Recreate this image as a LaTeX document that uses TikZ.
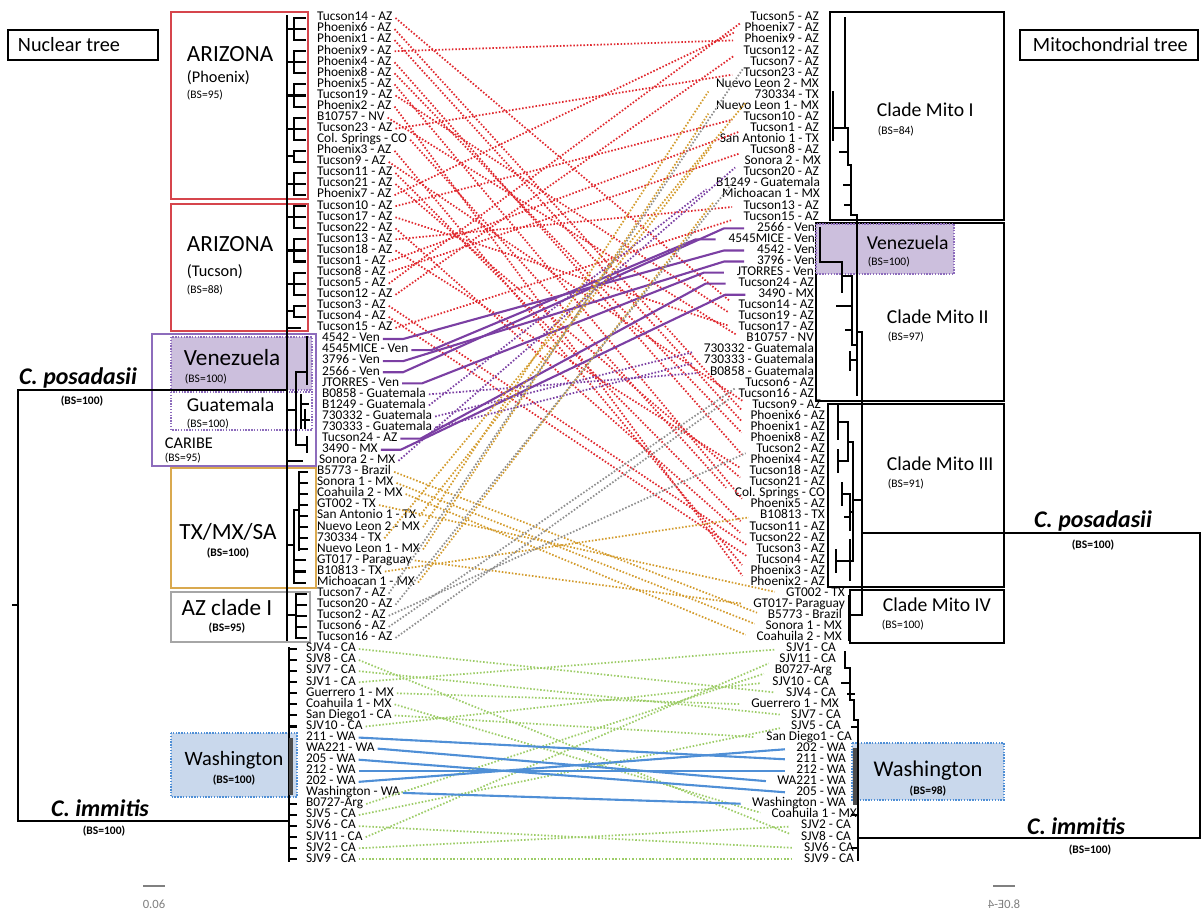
\documentclass[tikz,border=0pt]{standalone}
\usepackage{fontspec}
\setmainfont{Carlito}
\usetikzlibrary{calc}

\definecolor{azred}{HTML}{E0282E}
\definecolor{venpurple}{HTML}{7B3FA3}
\definecolor{mexorange}{HTML}{D39B2C}
\definecolor{azgray}{HTML}{8E8E8E}
\definecolor{sjvgreen}{HTML}{9DCC68}
\definecolor{wablue}{HTML}{4F8FD6}
\definecolor{venfill}{HTML}{CCBFDD}
\definecolor{wafill}{HTML}{C9D8EC}
\definecolor{boxred}{HTML}{D6454C}
\definecolor{boxorange}{HTML}{D9A94F}
\definecolor{boxpurple}{HTML}{8D6CBC}

% row height of the taxon lists
\newcommand{\rowy}[1]{18+(#1-1)*11.07}

\begin{document}
\begin{tikzpicture}[x=0.025cm,y=-0.025cm,
    lab/.style={font=\fontsize{9.5}{9.5}\selectfont,inner ysep=0pt,inner xsep=2pt,
      text height=5.6pt,text depth=1.6pt},
    head/.style={font=\fontsize{14.4}{14.4}\selectfont},
    big/.style={font=\fontsize{16.5}{16.5}\selectfont},
    mid/.style={font=\fontsize{14}{14}\selectfont},
    small/.style={font=\fontsize{11.6}{11.6}\selectfont},
    bs/.style={font=\fontsize{8.2}{8.2}\selectfont},
    bsb/.style={font=\fontsize{8.2}{8.2}\selectfont\bfseries},
    species/.style={font=\fontsize{17}{17}\selectfont\bfseries\itshape},
    tree/.style={line width=1.5pt,line cap=rect},
    clade/.style={draw,line width=0.8pt},
    dotbox/.style={draw,line width=0.9pt,dash pattern=on 1pt off 1pt},
    dots/.style={line width=1.25pt,dash pattern=on 1.1pt off 1.3pt,shorten >=6pt},
    az/.style={dots,azred},
    gua/.style={dots,venpurple},
    mex/.style={dots,mexorange},
    azone/.style={dots,azgray},
    sjv/.style={dots,sjvgreen},
    ven/.style={line width=1.5pt,venpurple},
    wash/.style={line width=1.5pt,wablue,shorten >=6pt}]
\useasboundingbox (0,0) rectangle (1204,910);

% ---- clade boxes, nuclear side
\draw[line width=0.8pt] (8,30) rectangle (158,60);
\node[head,anchor=west] (nuclear) at (13,45) {Nuclear tree};
\draw[clade,boxred] (171,12) rectangle (308,199);
\draw[clade,boxred] (171,204) rectangle (308,331);
\draw[clade,boxpurple] (152,334) rectangle (316,466);
\draw[dotbox,boxpurple,fill=venfill] (171,337) rectangle (312,390);
\draw[dotbox,boxpurple] (171,392) rectangle (312,430);
\draw[clade,boxorange] (171,468) rectangle (316,588);
\draw[clade,gray!70] (171,592) rectangle (310,642);
\draw[dotbox,wablue,fill=wafill] (171,733) rectangle (297,797);

\node[big,anchor=west] (azphx) at (182,54) {ARIZONA};
\node[small,anchor=west] (phx) at (182,78) {(Phoenix)};
\node[bs,anchor=west] (phxbs) at (182,95) {(BS=95)};
\node[big,anchor=west] (aztuc) at (182,244) {ARIZONA};
\node[small,anchor=west] (tuc) at (182,272) {(Tucson)};
\node[bs,anchor=west] (tucbs) at (182,290) {(BS=88)};
\node[big,anchor=west] (venl) at (179,358) {Venezuela};
\node[bs,anchor=west] (venlbs) at (180,379) {(BS=100)};
\node[mid,anchor=west] (guat) at (182,405) {Guatemala};
\node[bs,anchor=west] (guatbs) at (182,424) {(BS=100)};
\node[small,anchor=west] (caribe) at (160,443) {CARIBE};
\node[bs,anchor=west] (caribebs) at (160,458) {(BS=95)};
\node[big] (txmx) at (228,532) {TX/MX/SA};
\node[bsb] (txmxbs) at (228,553) {(BS=100)};
\node[big] (azone) at (227,608) {AZ clade I};
\node[bsb] (azonebs) at (227,628) {(BS=95)};
\node[font=\fontsize{14.5}{14.5}\selectfont] (wal) at (234,760) {Washington};
\node[bsb] (walbs) at (234,780) {(BS=100)};

% ---- clade boxes, mitochondrial side
\draw[line width=0.8pt] (1020,30) rectangle (1198,60);
\node[head,anchor=west] (mito) at (1028,45) {Mitochondrial tree};
\draw[clade] (830,12) rectangle (1004,220);
\draw[clade] (816,223) rectangle (1004,401);
\draw[dotbox,boxpurple,fill=venfill] (816,224) rectangle (954,274);
\draw[clade] (828,404) rectangle (1004,587);
\draw[clade] (850,590) rectangle (1004,643);
\draw[dotbox,wablue,fill=wafill] (852,743) rectangle (1004,800);

\node[mid,anchor=west] (mitoI) at (872,110) {Clade Mito I};
\node[bs,anchor=west] (mitoIbs) at (873,131) {(BS=84)};
\node[mid,anchor=west] (venr) at (862,243) {Venezuela};
\node[bs,anchor=west] (venrbs) at (863,262) {(BS=100)};
\node[mid,anchor=west] (mitoII) at (882,317) {Clade Mito II};
\node[bs,anchor=west] (mitoIIbs) at (883,337) {(BS=97)};
\node[mid,anchor=west] (mitoIII) at (882,464) {Clade Mito III};
\node[bs,anchor=west] (mitoIIIbs) at (883,484) {(BS=91)};
\node[mid,anchor=west] (mitoIV) at (878,605) {Clade Mito IV};
\node[bs,anchor=west] (mitoIVbs) at (877,625) {(BS=100)};
\node[font=\fontsize{16}{16}\selectfont] (war) at (928,771) {Washington};
\node[bsb] (warbs) at (928,791) {(BS=98)};

% ---- species
\node[species] (posl) at (78,378) {C. posadasii};
\node[bsb] (poslbs) at (82,401) {(BS=100)};
\node[species] (imml) at (100,808) {C. immitis};
\node[bsb] (immlbs) at (104,831) {(BS=100)};
\node[species] (posr) at (1093,521) {C. posadasii};
\node[bsb] (posrbs) at (1093,545) {(BS=100)};
\node[species] (immr) at (1076,826) {C. immitis};
\node[bsb] (immrbs) at (1090,850) {(BS=100)};

% ---- nuclear tree
\draw[tree] (287,16) -- (287,640);
\draw[tree] (18,390) -- (287,390);
\draw[tree] (18,390) -- (18,821) -- (289,821);
\draw[tree] (13,605) -- (18,605);
\draw[tree] (289,648) -- (289,861);
\foreach \a/\b in {1/3,4/6,7/9,10/12,13/14,15/17,18/20,21/23,24/26,27/28}
  \draw[tree] (294,{\rowy{\a}}) -- (294,{\rowy{\b}})
    (287,{(\rowy{\a}+\rowy{\b})/2}) -- (294,{(\rowy{\a}+\rowy{\b})/2});
\foreach \i in {1,...,28}
  \draw[tree] (294,{\rowy{\i}}) -- (305,{\rowy{\i}});
\draw[tree] (287,{\rowy{29}}) -- (300,{\rowy{29}});
\draw[tree] (307,337) -- (307,384) (296,372) -- (307,372) (296,372) -- (296,445) (287,410) -- (296,410);
\draw[tree] (301,395) -- (301,428) (301,404) -- (308,404) (305,410) -- (305,428) (301,420) -- (309,420);
\draw[tree] (296,445) -- (307,445) (307,437) -- (307,452);
\draw[tree] (287,461) -- (302,461);
\draw[tree] (299,473) -- (299,550) (294,510) -- (299,510) (294,510) -- (294,583) (287,545) -- (294,545);
\foreach \i in {42,...,49}
  \draw[tree] (299,{\rowy{\i}}) -- (307,{\rowy{\i}});
\foreach \i in {50,...,52}
  \draw[tree] (294,{\rowy{\i}}) -- (305,{\rowy{\i}});
\draw[tree] (296,594) -- (296,638) (287,615) -- (296,615);
\foreach \i in {53,...,57}
  \draw[tree] (296,{\rowy{\i}}) -- (306,{\rowy{\i}});
\foreach \i in {58,...,65,72,73,74,75,76,77}
  \draw[tree] (289,{\rowy{\i}}) -- (296,{\rowy{\i}});
\draw[line width=3pt,black!70] (291,738) -- (291,795);

% ---- mitochondrial tree
\draw[tree] (845,18) -- (845,128) -- (848,128) -- (848,165) -- (851,165) -- (851,215) -- (857,215) -- (857,395);
\draw[tree] (833,92) -- (833,140) (833,128) -- (845,128);
\draw[tree] (840,152) -- (848,152) (844,185) -- (851,185) (845,205) -- (851,205);
\draw[tree] (820,228) -- (820,262) -- (842,262) -- (842,292);
\draw[tree] (842,276) -- (852,276) -- (852,345) -- (857,345);
\draw[tree] (837,306) -- (852,306) (846,330) -- (852,330) (850,360) -- (857,360) (850,352) -- (850,370);
\draw[tree] (857,332) -- (862,332) -- (862,615);
\draw[tree] (838,406) -- (838,439) (838,422) -- (848,422);
\draw[tree] (838,450) -- (838,472) (838,461) -- (848,461);
\draw[tree] (848,422) -- (848,461) (848,442) -- (853,442);
\draw[tree] (842,483) -- (842,505) (842,494) -- (850,494) (850,494) -- (850,530) (845,517) -- (850,517);
\draw[tree] (836,550) -- (836,572) (836,561) -- (850,561) (850,540) -- (850,580);
\draw[tree] (853,442) -- (853,561) (850,561) -- (853,561) (850,512) -- (853,512) (853,500) -- (862,500);
\draw[tree] (849,596) -- (849,640) (849,615) -- (862,615);
\draw[tree] (862,533) -- (1200,533) -- (1200,838) -- (858,838);
\draw[tree] (845,652) -- (845,668) -- (850,668) -- (850,700) -- (854,700) -- (854,720) -- (858,720) -- (858,860);
\draw[tree] (842,683) -- (850,683) (848,694) -- (854,694) (852,727) -- (858,727) (852,815) -- (858,815) (852,848) -- (858,848);
\draw[line width=3pt,black!70] (855,748) -- (855,805);

% ---- taxon labels, nuclear order
\foreach \x/\t [count=\i] in {316/Tucson14 - AZ,316/Phoenix6 - AZ,316/Phoenix1 - AZ,316/Phoenix9 - AZ,
  316/Phoenix4 - AZ,316/Phoenix8 - AZ,316/Phoenix5 - AZ,316/Tucson19 - AZ,316/Phoenix2 - AZ,
  316/B10757 - NV,316/Tucson23 - AZ,316/Col. Springs - CO,316/Phoenix3 - AZ,316/Tucson9 - AZ,
  316/Tucson11 - AZ,316/Tucson21 - AZ,316/Phoenix7 - AZ,316/Tucson10 - AZ,316/Tucson17 - AZ,
  316/Tucson22 - AZ,316/Tucson13 - AZ,316/Tucson18 - AZ,316/Tucson1 - AZ,316/Tucson8 - AZ,
  316/Tucson5 - AZ,316/Tucson12 - AZ,316/Tucson3 - AZ,316/Tucson4 - AZ,316/Tucson15 - AZ,
  321/4542 - Ven,321/4545MICE - Ven,321/3796 - Ven,321/2566 - Ven,321/JTORRES - Ven,
  321/B0858 - Guatemala,321/B1249 - Guatemala,321/730332 - Guatemala,321/730333 - Guatemala,
  321/Tucson24 - AZ,321/3490 - MX,318/Sonora 2 - MX,316/B5773 - Brazil,316/Sonora 1 - MX,
  316/Coahuila 2 - MX,316/GT002 - TX,316/San Antonio 1 - TX,316/Nuevo Leon 2 - MX,316/730334 - TX,
  316/Nuevo Leon 1 - MX,316/GT017 - Paraguay,316/B10813 - TX,316/Michoacan 1 - MX,
  316/Tucson7 - AZ,316/Tucson20 - AZ,316/Tucson2 - AZ,316/Tucson6 - AZ,316/Tucson16 - AZ,
  305/SJV4 - CA,305/SJV8 - CA,305/SJV7 - CA,305/SJV1 - CA,305/Guerrero 1 - MX,305/Coahuila 1 - MX,
  305/San Diego1 - CA,305/SJV10 - CA,305/211 - WA,305/WA221 - WA,305/205 - WA,305/212 - WA,
  305/202 - WA,305/Washington - WA,305/B0727-Arg,305/SJV5 - CA,305/SJV6 - CA,305/SJV11 - CA,
  305/SJV2 - CA,305/SJV9 - CA}
  \node[lab,anchor=west] (L\i) at (\x-2,{\rowy{\i}}) {\t};

% ---- taxon labels, mitochondrial order
\foreach \x/\t [count=\i] in {820/Tucson5 - AZ,820/Phoenix7 - AZ,820/Phoenix9 - AZ,820/Tucson12 - AZ,
  820/Tucson7 - AZ,820/Tucson23 - AZ,820/Nuevo Leon 2 - MX,820/730334 - TX,820/Nuevo Leon 1 - MX,
  820/Tucson10 - AZ,820/Tucson1 - AZ,820/San Antonio 1 - TX,820/Tucson8 - AZ,822/Sonora 2 - MX,
  820/Tucson20 - AZ,821/B1249 - Guatemala,821/Michoacan 1 - MX,820/Tucson13 - AZ,820/Tucson15 - AZ,
  816/2566 - Ven,816/4545MICE - Ven,816/4542 - Ven,816/3796 - Ven,815/JTORRES - Ven,
  815/Tucson24 - AZ,815/3490 - MX,815/Tucson14 - AZ,815/Tucson19 - AZ,815/Tucson17 - AZ,
  815/B10757 - NV,815/730332 - Guatemala,815/730333 - Guatemala,815/B0858 - Guatemala,
  815/Tucson6 - AZ,815/Tucson16 - AZ,822/Tucson9 - AZ,826/Phoenix6 - AZ,826/Phoenix1 - AZ,
  826/Phoenix8 - AZ,826/Tucson2 - AZ,826/Phoenix4 - AZ,826/Tucson18 - AZ,826/Tucson21 - AZ,
  826/Col. Springs - CO,826/Phoenix5 - AZ,826/B10813 - TX,826/Tucson11 - AZ,826/Tucson22 - AZ,
  826/Tucson3 - AZ,826/Tucson4 - AZ,826/Phoenix3 - AZ,826/Phoenix2 - AZ,
  846/GT002 - TX,846/GT017- Paraguay,843/B5773 - Brazil,843/Sonora 1 - MX,843/Coahuila 2 - MX,
  837/SJV1 - CA,837/SJV11 - CA,833/B0727-Arg,830/SJV10 - CA,837/SJV4 - CA,840/Guerrero 1 - MX,
  842/SJV7 - CA,842/SJV5 - CA,853/San Diego1 - CA,847/202 - WA,847/211 - WA,847/212 - WA,
  847/WA221 - WA,847/205 - WA,847/Washington - WA,858/Coahuila 1 - MX,852/SJV2 - CA,
  852/SJV8 - CA,855/SJV6 - CA,855/SJV9 - CA}
  \node[lab,anchor=east] (R\i) at (\x+2,{\rowy{\i}}) {\t};

% ---- connectors between the two trees
\foreach \a/\b in {1/27,2/37,3/38,4/3,5/41,6/39,7/45,8/28,9/52,10/30,11/6,12/44,13/51,14/36,
  15/47,16/43,17/2,18/10,19/29,20/48,21/18,22/42,23/11,24/13,25/1,26/4,27/49,28/50,29/19}
  \draw[az] (L\a.east) -- (R\b.west);
\foreach \a/\b in {30/22,31/21,32/23,33/20,34/24,39/25,40/26}
  \draw[ven] (L\a.east) -- ++(20,0) -- ($(R\b.west)+(-30,0)$) -- ($(R\b.west)+(-10,0)$);
\foreach \a/\b in {35/33,36/16,37/31,38/32,41/14}
  \draw[gua] (L\a.east) -- (R\b.west);
\foreach \a/\b in {42/55,43/56,44/57,45/53,46/12,47/7,48/8,49/9,50/54,51/46,52/17}
  \draw[mex] (L\a.east) -- (R\b.west);
\foreach \a/\b in {53/5,54/15,55/40,56/34,57/35}
  \draw[azone] (L\a.east) -- (R\b.west);
\foreach \a/\b in {58/62,59/75,60/64,61/58,62/63,63/73,64/66,65/61,72/60,73/65,74/76,75/59,76/74,77/77}
  \draw[sjv] (L\a.east) -- (R\b.west);
\foreach \a/\b in {66/68,67/70,68/71,69/69,70/67,71/72}
  \draw[wash] (L\a.east) -- (R\b.west);

% ---- scale bars
\draw[gray,line width=1pt] (143,886) -- (165,886);
\node[gray,font=\fontsize{9}{9}\selectfont] (scalel) at (154,904) {0.06};
\draw[gray,line width=1pt] (993,886) -- (1015,886);
\node[gray,xscale=-1,font=\fontsize{9}{9}\selectfont] (scaler) at (1004,904) {8.0E-4};
\end{tikzpicture}
\end{document}
